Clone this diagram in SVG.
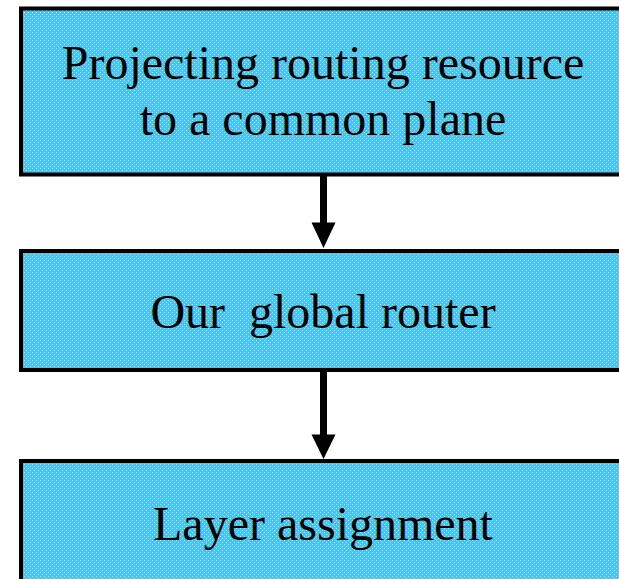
<svg xmlns="http://www.w3.org/2000/svg" width="619" height="579" viewBox="0 0 619 579">
  <style>
    .box { fill: url(#dither); stroke: #000; stroke-width: 4; }
    .lbl { font-family: "Liberation Serif", "Times New Roman", serif; font-size: 48px; fill: #000; text-anchor: middle; white-space: pre; }
    .conn { stroke: #000; stroke-width: 7; fill: none; }
  </style>
  <defs>
    <pattern id="dither" width="4" height="4" patternUnits="userSpaceOnUse">
      <rect width="4" height="4" fill="#33ccff"/>
      <rect x="0" y="0" width="1" height="1" fill="#99e6ff"/>
      <rect x="2" y="2" width="1" height="1" fill="#99e6ff"/>
    </pattern>
  </defs>
  <rect width="619" height="579" fill="#fff"/>
  <g id="node1">
    <rect class="box" x="21" y="8.5" width="610" height="166"/>
    <text class="lbl" x="323" y="79">Projecting routing resource</text>
    <text class="lbl" x="323" y="135">to a common plane</text>
  </g>
  <g id="node2">
    <rect class="box" x="21" y="251" width="610" height="119"/>
    <text class="lbl" x="323" y="328" xml:space="preserve">Our  global router</text>
  </g>
  <g id="node3">
    <rect class="box" x="21" y="461" width="610" height="130"/>
    <text class="lbl" x="323" y="540">Layer assignment</text>
  </g>
  <g id="connectors">
    <line class="conn" x1="323.5" y1="176" x2="323.5" y2="224"/>
    <polygon points="311.5,222.5 335.5,222.5 323.5,248" fill="#000"/>
    <line class="conn" x1="323.5" y1="371" x2="323.5" y2="436"/>
    <polygon points="311.5,434.5 335.5,434.5 323.5,459" fill="#000"/>
  </g>
</svg>
